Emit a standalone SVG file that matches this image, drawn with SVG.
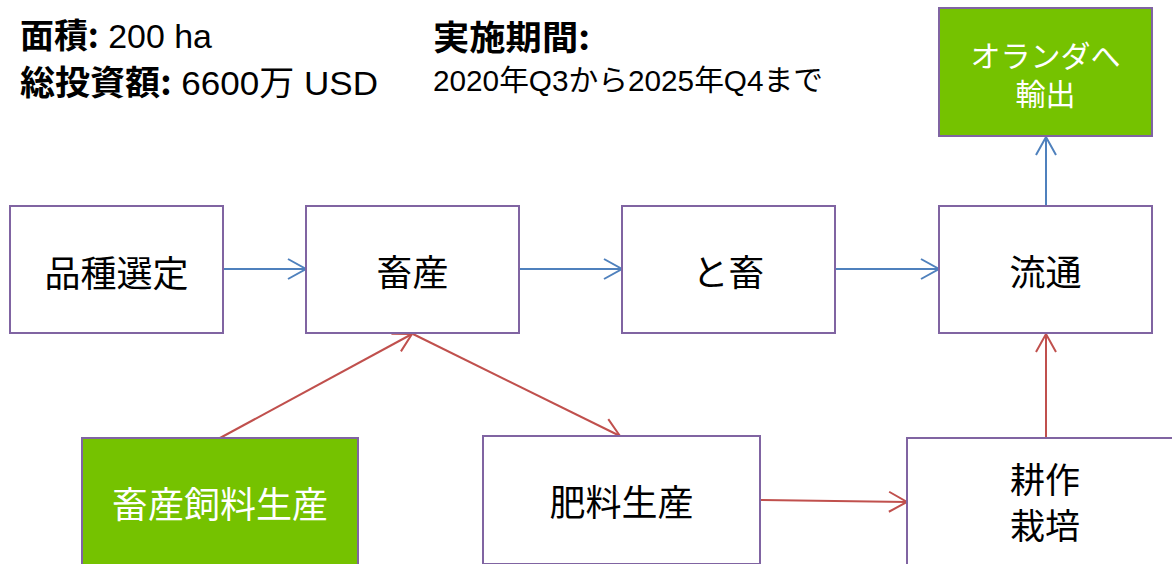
<svg xmlns="http://www.w3.org/2000/svg" width="1172" height="564" viewBox="0 0 1172 564">
<style>
text{font-family:"Liberation Sans","Noto Sans CJK JP",sans-serif;fill:#000}
.box{fill:#fff;stroke:#8064A2;stroke-width:2}
.green{fill:#75C200;stroke:#8064A2;stroke-width:2}
.lbl{font-family:"Noto Sans CJK JP",sans-serif;font-size:36px;text-anchor:middle;dominant-baseline:central}
.wlbl{fill:#fff}
.sm{font-size:30px}
.md{font-size:35px}
.blue{stroke:#4F81BD;stroke-width:2;fill:none;marker-end:url(#ab)}
.red{stroke:#C0504D;stroke-width:2;fill:none;marker-end:url(#ar)}
.hd{font-size:34px}
.b{font-family:"Noto Sans CJK JP",sans-serif;font-weight:bold}
</style>
<defs>
<marker id="ab" markerUnits="userSpaceOnUse" markerWidth="24" markerHeight="24" refX="20" refY="12" orient="auto" overflow="visible">
<path d="M2,2 L20,12 L2,22" fill="none" stroke="#4F81BD" stroke-width="2"/>
</marker>
<marker id="ar" markerUnits="userSpaceOnUse" markerWidth="24" markerHeight="24" refX="20" refY="12" orient="auto" overflow="visible">
<path d="M2,2 L20,12 L2,22" fill="none" stroke="#C0504D" stroke-width="2"/>
</marker>
</defs>
<rect width="1172" height="564" fill="#fff"/>
<g id="header">
<text class="hd" x="20" y="48" textLength="192" lengthAdjust="spacingAndGlyphs"><tspan class="b">面積:</tspan> 200 ha</text>
<text class="hd" x="20" y="95" textLength="358" lengthAdjust="spacingAndGlyphs"><tspan class="b">総投資額:</tspan> 6600万 USD</text>
<text class="hd b" x="433" y="50" textLength="157" lengthAdjust="spacingAndGlyphs">実施期間:</text>
<text x="433" y="91" font-size="29" textLength="390" lengthAdjust="spacingAndGlyphs">2020年Q3から2025年Q4まで</text>
</g>
<g id="connectors">
<line class="blue" x1="223" y1="269" x2="306" y2="269"/>
<line class="blue" x1="519" y1="269" x2="622" y2="269"/>
<line class="blue" x1="835" y1="269" x2="939" y2="269"/>
<line class="blue" x1="1046" y1="206" x2="1046" y2="137"/>
<line class="red" x1="220" y1="438" x2="412" y2="334"/>
<line class="red" x1="413" y1="334" x2="620" y2="436"/>
<line class="red" x1="760" y1="500" x2="907" y2="502"/>
<line class="red" x1="1046" y1="438" x2="1046" y2="334"/>
</g>
<g id="n-hinshu">
<rect class="box" x="10" y="206" width="213" height="127"/>
<text class="lbl" x="116.5" y="271">品種選定</text>
</g>
<g id="n-chikusan">
<rect class="box" x="306" y="206" width="213" height="127"/>
<text class="lbl" x="412.5" y="270">畜産</text>
</g>
<g id="n-tochiku">
<rect class="box" x="622" y="206" width="213" height="127"/>
<text class="lbl" x="728.5" y="270">と畜</text>
</g>
<g id="n-ryutsu">
<rect class="box" x="939" y="206" width="213" height="127"/>
<text class="lbl" x="1045.5" y="270">流通</text>
</g>
<g id="n-export">
<rect class="green" x="939" y="8" width="213" height="128"/>
<text class="lbl wlbl sm" x="1045.5" y="54">オランダへ</text>
<text class="lbl wlbl sm" x="1045.5" y="92">輸出</text>
</g>
<g id="n-feed">
<rect class="green" x="82" y="438" width="276" height="128"/>
<text class="lbl wlbl" x="220" y="502">畜産飼料生産</text>
</g>
<g id="n-fertilizer">
<rect class="box" x="483" y="436" width="277" height="128"/>
<text class="lbl" x="621.5" y="500">肥料生産</text>
</g>
<g id="n-cultivation">
<rect class="box" x="907" y="438" width="276" height="130"/>
<text class="lbl md" x="1045" y="477">耕作</text>
<text class="lbl md" x="1045" y="523">栽培</text>
</g>
</svg>
